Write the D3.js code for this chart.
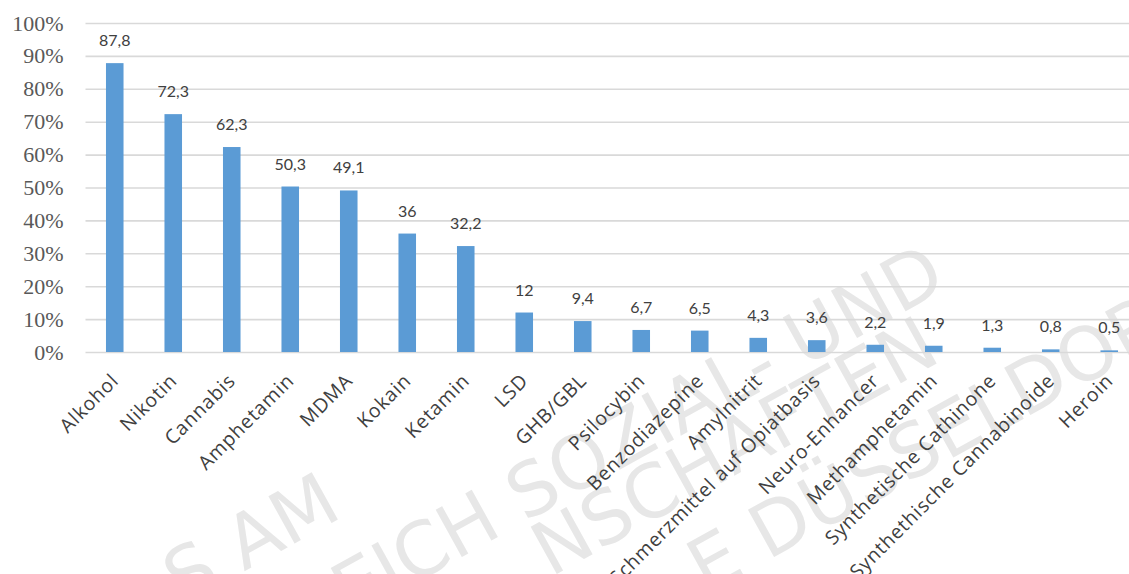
<!DOCTYPE html>
<html>
<head>
<meta charset="utf-8">
<script src="https://d3js.org/d3.v7.min.js"></script>
<style>
  body { margin: 0; background: #fff; }
  svg { display: block; }
</style>
</head>
<body>
<svg id="chart" width="1129" height="574"></svg>
<script>
  // values
  var drugs = ["Alkohol", "Nikotin", "Cannabis", "Amphetamin", "MDMA", "Kokain", "Ketamin",
    "LSD", "GHB/GBL", "Psilocybin", "Benzodiazepine", "Amylnitrit",
    "Schmerzmittel auf Opiatbasis", "Neuro-Enhancer", "Methamphetamin",
    "Synthetische Cathinone", "Synthethische Cannabinoide", "Heroin"]
  var shares = [87.8, 72.3, 62.3, 50.3, 49.1, 36, 32.2, 12, 9.4, 6.7, 6.5, 4.3, 3.6, 2.2, 1.9, 1.3, 0.8, 0.5]
  var yTicks = [0, 10, 20, 30, 40, 50, 60, 70, 80, 90, 100]

  // faint watermark lines behind the chart
  var watermark = ["S AM", "EICH SOZIAL- UND", "NSCHAFTEN", "E DÜSSELDORF"]

  var width = 1129, height = 574
  var margin = { top: 23, right: -9.5, bottom: 222, left: 85.5 }

  var svg = d3.select("#chart")

  var x = d3.scaleBand()
    .domain(drugs)
    .range([margin.left, width - margin.right])
    .paddingInner(0.7)
    .paddingOuter(0.35)

  var y = d3.scaleLinear()
    .domain([0, 100])
    .range([height - margin.bottom, margin.top])

  var fmt = d => String(d).replace(".", ",")

  // watermark
  var wmPos = [[344, 516], [949, 287], [943, 360], [1207, 317]]
  svg.append("g")
    .selectAll("text")
    .data(watermark)
    .join("text")
    .attr("transform", (d, i) => `translate(${wmPos[i][0]},${wmPos[i][1]}) rotate(-29)`)
    .attr("text-anchor", "end")
    .attr("font-family", "'DejaVu Sans', sans-serif")
    .attr("font-size", 74)
    .attr("fill", "#e7e7e7")
    .text(d => d)

  // gridlines + y labels
  var yAxis = svg.append("g")
    .attr("transform", `translate(${margin.left},0)`)
    .call(d3.axisLeft(y).tickValues(yTicks).tickSize(-(width - margin.left)).tickFormat(d => d + "%"))
  yAxis.select(".domain").remove()
  yAxis.selectAll(".tick line").attr("stroke", "#d9d9d9").attr("stroke-width", 1.6)
  yAxis.selectAll(".tick text")
    .attr("x", -22)
    .attr("font-family", "'Liberation Serif', serif")
    .attr("font-size", 22)
    .attr("fill", "#595959")

  // bars
  svg.append("g")
    .selectAll("rect")
    .data(shares)
    .join("rect")
    .attr("x", (d, i) => x(drugs[i]))
    .attr("y", d => y(d))
    .attr("width", x.bandwidth())
    .attr("height", d => y(0) - y(d))
    .attr("fill", "#5b9bd5")

  // value labels
  svg.append("g")
    .selectAll("text")
    .data(shares)
    .join("text")
    .attr("x", (d, i) => x(drugs[i]) + x.bandwidth() / 2)
    .attr("y", d => y(d) - 17)
    .attr("text-anchor", "middle")
    .attr("font-family", "Lato, sans-serif")
    .attr("font-size", 16)
    .attr("fill", "#404040")
    .text(d => fmt(d))

  // category labels
  svg.append("g")
    .selectAll("text")
    .data(drugs)
    .join("text")
    .attr("transform", d => `translate(${x(d) + x.bandwidth() / 2 + 5},${y(0) + 30}) rotate(-45)`)
    .attr("text-anchor", "end")
    .attr("font-family", "'Open Sans', sans-serif")
    .attr("font-size", 19.5)
    .attr("letter-spacing", 0.8)
    .attr("fill", "#404040")
    .text(d => d)
</script>
</body>
</html>
